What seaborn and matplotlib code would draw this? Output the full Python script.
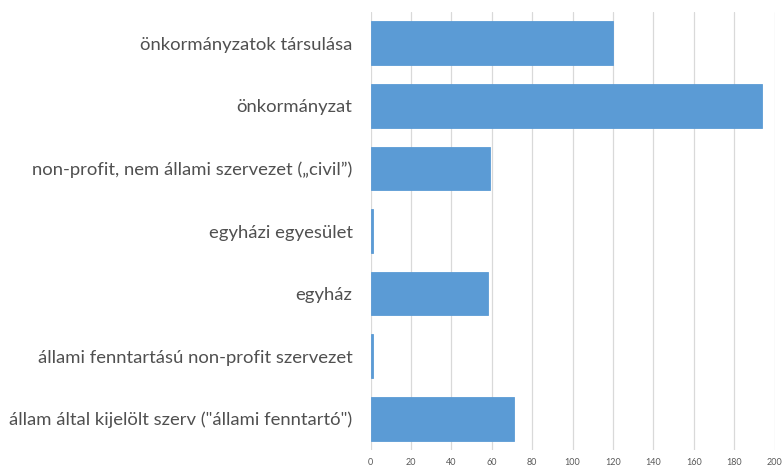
import matplotlib
matplotlib.use("Agg")
import matplotlib.pyplot as plt
import seaborn as sns
import pandas as pd

categories = [
    "önkormányzatok társulása",
    "önkormányzat",
    "non-profit, nem állami szervezet (\u201ecivil\u201d)",
    "egyházi egyesület",
    "egyház",
    "állami fenntartású non-profit szervezet",
    "állam által kijelölt szerv (\"állami fenntartó\")",
]
values = [120, 194, 59, 1, 58, 1, 71]
xticks = [0, 20, 40, 60, 80, 100, 120, 140, 160, 180, 200]

df = pd.DataFrame({"cat": categories, "val": values})

sns.set_theme(style="white")
plt.rcParams["font.family"] = ["Lato", "DejaVu Sans"]

fig = plt.figure(figsize=(7.84, 4.67), dpi=100)
ax = fig.add_axes([0.4728, 0.0364, 0.5151, 0.9379])

sns.barplot(data=df, x="val", y="cat", orient="h", color="#5B9BD5",
            saturation=1, width=0.7, ax=ax, zorder=3,
            edgecolor="#5B9BD5", linewidth=0.6)

ax.set_xlim(0, 200)
ax.set_xticks(xticks)
ax.set_xticklabels([str(t) for t in xticks], fontsize=6.5, color="#595959")
ax.set_ylim(6.5, -0.5)
ax.set_xlabel("")
ax.set_ylabel("")
ax.tick_params(axis="y", length=0, pad=13, labelsize=13.3, labelcolor="#505050")
ax.tick_params(axis="x", length=0, pad=6)
ax.grid(axis="x", color="#D9D9D9", linewidth=0.9, zorder=0)
ax.grid(axis="y", visible=False)
for s in ax.spines.values():
    s.set_visible(False)
ax.set_axisbelow(True)

fig.savefig("out.png", dpi=100)
